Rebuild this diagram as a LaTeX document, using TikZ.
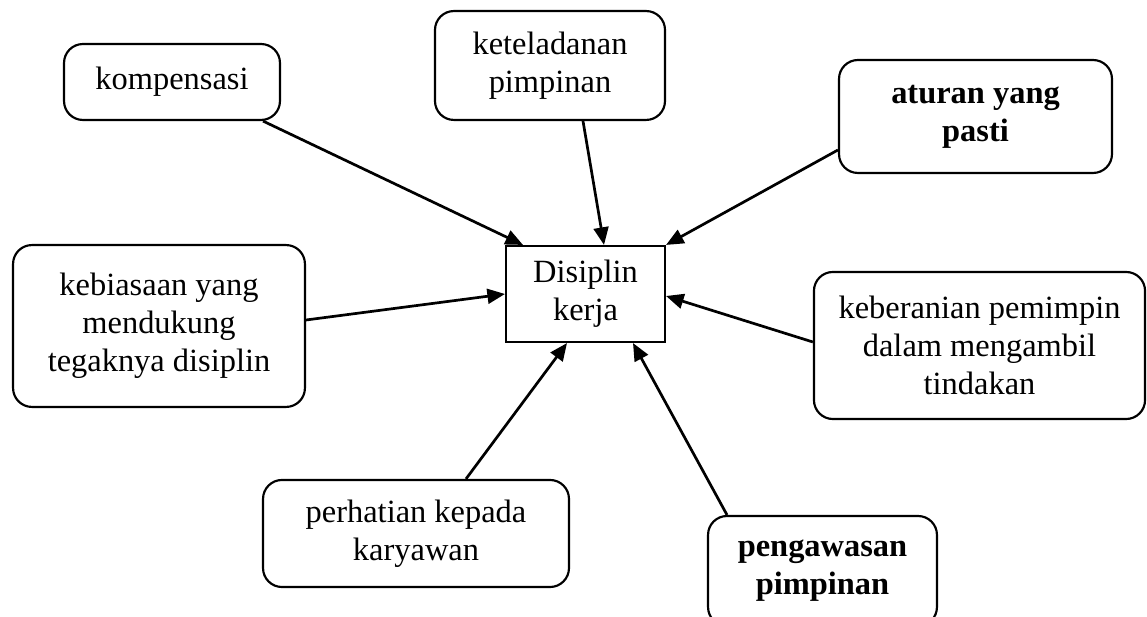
\documentclass[tikz,border=0pt]{standalone}
\usepackage{fontspec}
\setmainfont{Liberation Serif}
\usetikzlibrary{arrows.meta,calc}

\begin{document}
\begin{tikzpicture}[
   x=0.37pt, y=-0.37pt,
   every node/.style={font=\fontsize{12}{14}\selectfont, align=center, line width=0.8pt},
   factor/.style={draw, rounded corners=7pt},
   core/.style={draw},
   arrow/.style={-{Triangle[length=6.5pt,width=5.5pt]}, line width=1pt}
]
\useasboundingbox (0,0) rectangle (1147,617);
\clip (0,0) rectangle (1147,617);

% Nodes
\node[core] (disiplin) at (585.5,294) [minimum width=58.8pt, minimum height=35.5pt] {Disiplin\\kerja};
\node[factor] (komp) at (172,82) [minimum width=79.9pt, minimum height=28.1pt] {kompensasi};
\node[factor] (teladan) at (550,65.5) [minimum width=85.1pt, minimum height=40.3pt] {keteladanan\\pimpinan};
\node[factor] (aturan) at (975.5,116.5) [minimum width=101pt, minimum height=41.8pt] {\textbf{aturan yang}\\\textbf{pasti}};
\node[factor] (biasa) at (159,326) [minimum width=108pt, minimum height=59.9pt] {kebiasaan yang\\mendukung\\tegaknya disiplin};
\node[factor] (berani) at (979.5,345.5) [minimum width=122.5pt, minimum height=54.4pt] {keberanian pemimpin\\dalam mengambil\\tindakan};
\node[factor] (perhatian) at (416,533.5) [minimum width=113.2pt, minimum height=39.6pt] {perhatian kepada\\karyawan};
\node[factor] (awas) at (822.5,571) [minimum width=84.7pt, minimum height=40.7pt] {\textbf{pengawasan}\\\textbf{pimpinan}};

% Edges
\draw[arrow] ($(komp.south)+(91,0)$) -- ($(disiplin.north)+(-62.5,0)$);
\draw[arrow] ($(teladan.south)+(33,0)$) -- ($(disiplin.north)+(18.5,0)$);
\draw[arrow] ($(aturan.west)+(0,33.5)$) -- (disiplin.north east);
\draw[arrow] ($(biasa.east)+(0,-6)$) -- (disiplin.west);
\draw[arrow] ($(berani.west)+(0,-3.5)$) -- ($(disiplin.east)+(0,2)$);
\draw[arrow] ($(perhatian.north)+(50,0)$) -- ($(disiplin.south)+(-18.5,0)$);
\draw[arrow] ($(awas.north)+(-95.5,0)$) -- ($(disiplin.south)+(47.5,0)$);

\end{tikzpicture}
\end{document}
